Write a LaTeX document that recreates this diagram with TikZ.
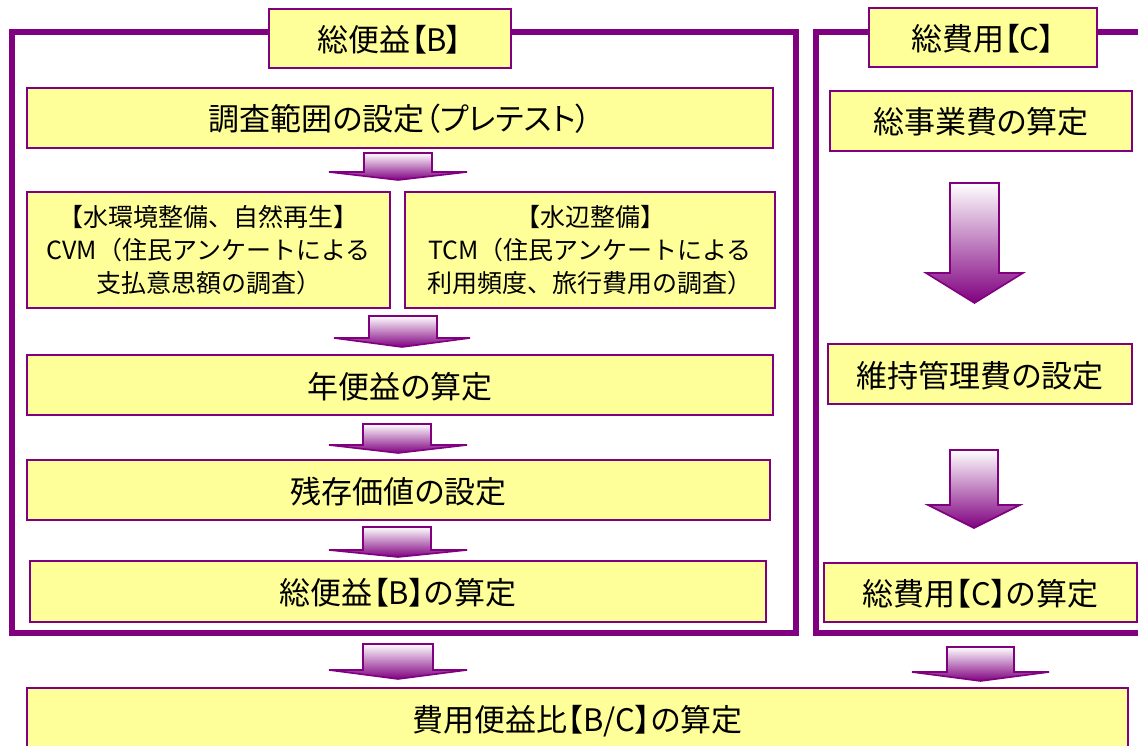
\documentclass[tikz,border=0pt]{standalone}
\usepackage{fontspec}
\setmainfont{Noto Sans CJK JP}[RawFeature=+palt]
\newfontfamily\plainjp{Noto Sans CJK JP}
\definecolor{boxyellow}{HTML}{FFFF99}
\definecolor{frpurple}{HTML}{800080}
\newcommand\blockarrow[7]{%
  \path[arrowshape] (#1,#5) -- (#2,#5) -- (#2,#6) -- (#4,#6) -- ({(#3+#4)/2},#7) -- (#3,#6) -- (#1,#6) -- cycle;}
\tikzset{
  box/.style={draw=frpurple, line width=1.8pt, fill=boxyellow, inner sep=0pt, align=center, text=black,
    font=\fontsize{31}{36}\selectfont, text height=30pt, text depth=4pt},
  smallbox/.style={draw=frpurple, line width=1.8pt, fill=boxyellow, inner sep=0pt, align=center, text=black,
    font=\plainjp\fontsize{25}{33}\selectfont},
  titlebox/.style={box},
  frame/.style={draw=frpurple, line width=5.5pt},
  arrowshape/.style={draw=frpurple, line width=1.6pt, line join=miter, top color=white, bottom color=frpurple},
}
\begin{document}
\begin{tikzpicture}[x=1pt,y=-1pt]
\useasboundingbox (0,0) rectangle (1138,746);
\fill[white] (0,0) rectangle (1138,746);
% frames
\draw[frame] (12,32) rectangle (796,633);
\draw[frame] (1160,32) -- (816,32) -- (816,633) -- (1160,633);
% titles
\node[titlebox, minimum width=242pt, minimum height=59pt] (tB) at (390,38.5) {総便益【B】};
\node[titlebox, minimum width=228pt, minimum height=59pt] (tC) at (983,37.5) {総費用【C】};
% left column
\node[box, minimum width=746pt, minimum height=60pt] (b1) at (400,118) {調査範囲の設定（プレテスト）};
\node[smallbox, minimum width=363pt, minimum height=116pt] (cvm) at (208.5,250) {【水環境整備、自然再生】\\CVM（住民アンケートによる\\支払意思額の調査）};
\node[smallbox, minimum width=370pt, minimum height=116pt] (tcm) at (590,250) {【水辺整備】\\TCM（住民アンケートによる\\利用頻度、旅行費用の調査）};
\node[box, minimum width=746pt, minimum height=60pt] (b3) at (400,385) {年便益の算定};
\node[box, minimum width=743pt, minimum height=60pt] (b4) at (398.5,490) {残存価値の設定};
\node[box, minimum width=736pt, minimum height=61pt] (b5) at (398,591.5) {総便益【B】の算定};
% right column
\node[box, minimum width=302pt, minimum height=60pt] (c1) at (981,121) {総事業費の算定};
\node[box, minimum width=304pt, minimum height=60pt] (c2) at (980,374) {維持管理費の設定};
\node[box, minimum width=313pt, minimum height=59pt] (c3) at (980.5,592.5) {総費用【C】の算定};
% bottom
\node[box, minimum width=1101pt, minimum height=61pt] (bc) at (577.5,718.5) {費用便益比【B/C】の算定};
% arrows
\blockarrow{364}{432}{329}{467}{153}{172}{180}
\blockarrow{369}{437}{334}{470}{316}{338}{347}
\blockarrow{363}{431}{329}{467}{424}{445}{453}
\blockarrow{363}{431}{329}{467}{527}{550}{557}
\blockarrow{363}{433}{329}{467}{644}{670}{679}
\blockarrow{950}{999}{926}{1023}{183}{273}{303}
\blockarrow{950}{998}{928}{1020}{450}{505}{528}
\blockarrow{947}{1014}{912}{1049}{647}{672}{681}
\end{tikzpicture}
\end{document}
